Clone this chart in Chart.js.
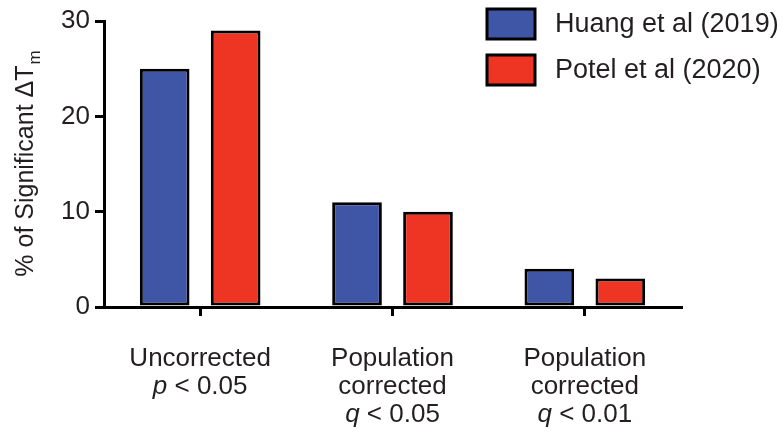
<!DOCTYPE html>
<html>
<head>
<meta charset="utf-8">
<script src="https://cdn.jsdelivr.net/npm/chart.js@4"></script>
<style>
  html, body { margin: 0; padding: 0; background: #fff; }
  #wrap { width: 782px; height: 433px; }
</style>
</head>
<body>
<div id="wrap"><canvas id="bars" width="782" height="433"></canvas></div>
<script>
// data
const categories = [
    ['Uncorrected', 'p < 0.05'],
    ['Population', 'corrected', 'q < 0.05'],
    ['Population', 'corrected', 'q < 0.01']
];
const seriesNames = ['Huang et al (2019)', 'Potel et al (2020)'];
const huangValues = [25, 11, 4];
const potelValues = [29, 10, 3];
const yTicks = [0, 10, 20, 30];

const seriesColors = ['#3f56a6', '#ee3524'];
const textColor = '#231f20';
const fontFamily = "'Liberation Sans', Arial, sans-serif";

// draws the category labels (italic p / q), the y title and the legend
const annotations = {
    id: 'annotations',
    afterDraw(chart) {
        const ctx = chart.ctx;
        const xScale = chart.scales.x;
        ctx.save();
        ctx.fillStyle = textColor;
        ctx.textBaseline = 'middle';

        // category labels
        categories.forEach((lines, i) => {
            const cx = xScale.getPixelForTick(i);
            lines.forEach((line, j) => {
                const y = 359 + j * 28;
                const m = line.match(/^([pq])( .*)$/);
                if (m) {
                    ctx.font = 'italic 26px ' + fontFamily;
                    const w1 = ctx.measureText(m[1]).width;
                    ctx.font = '26px ' + fontFamily;
                    const w2 = ctx.measureText(m[2]).width;
                    const x0 = cx - (w1 + w2) / 2;
                    ctx.textAlign = 'left';
                    ctx.font = 'italic 26px ' + fontFamily;
                    ctx.fillText(m[1], x0, y);
                    ctx.font = '26px ' + fontFamily;
                    ctx.fillText(m[2], x0 + w1, y);
                } else {
                    ctx.textAlign = 'center';
                    ctx.font = '26px ' + fontFamily;
                    ctx.fillText(line, cx, y);
                }
            });
        });

        // y axis title with subscript
        ctx.save();
        ctx.translate(26, 164);
        ctx.rotate(-Math.PI / 2);
        const main = '% of Significant \u0394T';
        ctx.font = '25px ' + fontFamily;
        const wMain = ctx.measureText(main).width;
        ctx.font = '17px ' + fontFamily;
        const wSub = ctx.measureText('m').width;
        const start = -(wMain + wSub) / 2;
        ctx.textAlign = 'left';
        ctx.font = '25px ' + fontFamily;
        ctx.fillText(main, start, 0);
        ctx.font = '17px ' + fontFamily;
        ctx.fillText('m', start + wMain + 1, 9);
        ctx.restore();

        // legend
        seriesNames.forEach((name, i) => {
            const by = 9 + i * 46;
            ctx.fillStyle = seriesColors[i];
            ctx.fillRect(487, by, 48, 30);
            ctx.lineWidth = 3;
            ctx.strokeStyle = '#000';
            ctx.strokeRect(487, by, 48, 30);
            ctx.fillStyle = textColor;
            ctx.textAlign = 'left';
            ctx.font = '27px ' + fontFamily;
            ctx.fillText(name, 555, by + 16);
        });
        ctx.restore();
    }
};

const chartData = {
    labels: categories.map(c => c.join(' ')),
    datasets: [
        {
            label: seriesNames[0],
            data: huangValues,
            backgroundColor: seriesColors[0],
            borderColor: '#000',
            borderWidth: 3,
            borderSkipped: false,
            categoryPercentage: 0.738,
            barPercentage: 0.70
        },
        {
            label: seriesNames[1],
            data: potelValues,
            backgroundColor: seriesColors[1],
            borderColor: '#000',
            borderWidth: 3,
            borderSkipped: false,
            categoryPercentage: 0.738,
            barPercentage: 0.70
        }
    ]
};

new Chart(document.getElementById('bars'), {
    type: 'bar',
    data: chartData,
    options: {
        responsive: false,
        animation: false,
        layout: {
            padding: { top: 21, right: 101, left: 0, bottom: 0 }
        },
        scales: {
            x: {
                grid: {
                    offset: false,
                    drawOnChartArea: false,
                    drawTicks: true,
                    tickLength: 9,
                    color: '#000',
                    lineWidth: 3
                },
                border: { color: '#000', width: 3 },
                ticks: { display: false },
                afterFit(scale) { scale.height = 126; }
            },
            y: {
                min: 0,
                max: 30,
                afterBuildTicks(scale) {
                    scale.ticks = yTicks.map(v => ({ value: v }));
                },
                grid: {
                    drawOnChartArea: false,
                    drawTicks: true,
                    tickLength: 9,
                    color: '#000',
                    lineWidth: 3
                },
                border: { color: '#000', width: 3 },
                ticks: {
                    color: textColor,
                    padding: 5,
                    font: { size: 26, family: fontFamily }
                },
                afterFit(scale) { scale.width = 104; }
            }
        },
        plugins: {
            legend: { display: false },
            tooltip: { enabled: false }
        }
    },
    plugins: [annotations]
});
</script>
</body>
</html>
